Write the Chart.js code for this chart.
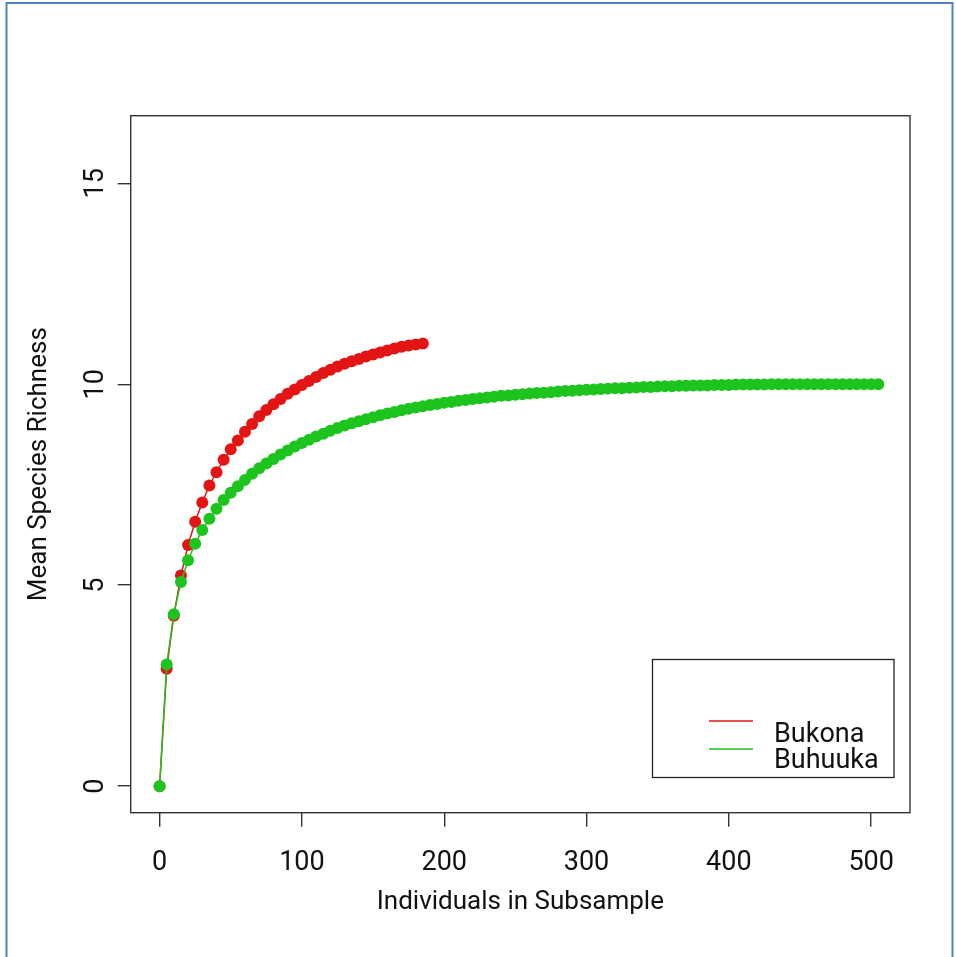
<!DOCTYPE html>
<html>
<head>
<meta charset="utf-8">
<script src="https://cdn.jsdelivr.net/npm/chart.js@4.4.1/dist/chart.umd.min.js"></script>
<style>
html, body { margin: 0; padding: 0; background: #ffffff; }
#wrap { width: 956px; height: 957px; }
</style>
</head>
<body>
<div id="wrap"><canvas id="myChart" width="956" height="957"></canvas></div>
<script>
/* ---------- DATA ---------- */

const bukonaN = [0, 5, 10, 15, 20, 25, 30, 35, 40, 45,
  50, 55, 60, 65, 70, 75, 80, 85, 90, 95,
  100, 105, 110, 115, 120, 125, 130, 135, 140, 145,
  150, 155, 160, 165, 170, 175, 180, 185];

const bukonaRichness = [0, 2.92, 4.24, 5.24, 6.00, 6.58, 7.06, 7.48, 7.81, 8.12,
  8.38, 8.60, 8.82, 9.01, 9.20, 9.36, 9.50, 9.63, 9.76, 9.87,
  9.98, 10.08, 10.18, 10.28, 10.36, 10.44, 10.51, 10.57, 10.63, 10.69,
  10.74, 10.79, 10.84, 10.89, 10.93, 10.96, 10.99, 11.01];

const buhuukaN = [0, 5, 10, 15, 20, 25, 30, 35, 40, 45,
  50, 55, 60, 65, 70, 75, 80, 85, 90, 95,
  100, 105, 110, 115, 120, 125, 130, 135, 140, 145,
  150, 155, 160, 165, 170, 175, 180, 185, 190, 195,
  200, 205, 210, 215, 220, 225, 230, 235, 240, 245,
  250, 255, 260, 265, 270, 275, 280, 285, 290, 295,
  300, 305, 310, 315, 320, 325, 330, 335, 340, 345,
  350, 355, 360, 365, 370, 375, 380, 385, 390, 395,
  400, 405, 410, 415, 420, 425, 430, 435, 440, 445,
  450, 455, 460, 465, 470, 475, 480, 485, 490, 495,
  500, 505];

const buhuukaRichness = [0, 3.03, 4.28, 5.08, 5.62, 6.03, 6.37, 6.65, 6.90, 7.12,
  7.30, 7.46, 7.62, 7.77, 7.91, 8.03, 8.14, 8.25, 8.35, 8.45,
  8.54, 8.62, 8.70, 8.77, 8.84, 8.91, 8.97, 9.03, 9.08, 9.13,
  9.18, 9.23, 9.27, 9.31, 9.35, 9.39, 9.42, 9.45, 9.48, 9.51,
  9.54, 9.56, 9.59, 9.61, 9.63, 9.65, 9.67, 9.69, 9.71, 9.72,
  9.74, 9.75, 9.77, 9.78, 9.79, 9.80, 9.82, 9.83, 9.84, 9.85,
  9.86, 9.87, 9.88, 9.89, 9.90, 9.90, 9.91, 9.92, 9.93, 9.93,
  9.94, 9.95, 9.95, 9.96, 9.96, 9.97, 9.97, 9.97, 9.98, 9.98,
  9.98, 9.99, 9.99, 9.99, 9.99, 9.99, 10.0, 10.0, 10.0, 10.0,
  10.0, 10.0, 10.0, 10.0, 10.0, 10.0, 10.0, 10.0, 10.0, 10.0,
  10.0, 10.0];

const xTicks = [0, 100, 200, 300, 400, 500];
const yTicks = [0, 5, 10, 15];

const RED = "#e31414";
const GREEN = "#1ec41e";
const FONT = "Roboto";
const INK = "#111111";

/* ---------- R style box, y labels, legend ---------- */

const rStyle = {
  id: "rStyle",
  beforeDraw(chart) {
    const c = chart.ctx;
    c.save();
    c.fillStyle = "#ffffff";
    c.fillRect(0, 0, chart.width, chart.height);
    c.restore();
  },
  afterDraw(chart) {
    const c = chart.ctx;
    const a = chart.chartArea;
    const yScale = chart.scales.y;
    c.save();

    // plot box
    c.strokeStyle = "#333333";
    c.lineWidth = 1.4;
    c.strokeRect(a.left, a.top, a.right - a.left, a.bottom - a.top);

    // vertical y tick labels
    c.fillStyle = INK;
    c.font = "27px " + FONT;
    c.textAlign = "center";
    c.textBaseline = "alphabetic";
    yTicks.forEach(v => {
      const py = yScale.getPixelForValue(v);
      c.save();
      c.translate(102.5, py);
      c.rotate(-Math.PI / 2);
      c.fillText(String(v), 0, 0);
      c.restore();
    });

    // legend
    const lx = 652.5, ly = 659.5, lw = 241.5, lh = 118;
    c.strokeStyle = "#222222";
    c.lineWidth = 1.3;
    c.strokeRect(lx, ly, lw, lh);
    const items = [chart.data.datasets[1], chart.data.datasets[0]];
    const lineY = [721, 749];
    const textY = [741.5, 768];
    items.forEach((ds, i) => {
      c.strokeStyle = ds.borderColor;
      c.lineWidth = 1.5;
      c.beginPath();
      c.moveTo(709, lineY[i]);
      c.lineTo(753, lineY[i]);
      c.stroke();
      c.fillStyle = INK;
      c.textAlign = "left";
      c.fillText(ds.label, 774, textY[i]);
    });

    // outer frame
    c.strokeStyle = "#4f81bd";
    c.lineWidth = 2;
    c.beginPath();
    c.moveTo(6.5, 960);
    c.lineTo(6.5, 3);
    c.lineTo(952.5, 3);
    c.lineTo(952.5, 960);
    c.stroke();

    c.restore();
  }
};

/* ---------- CHART ---------- */

const ctx = document.getElementById("myChart").getContext("2d");

new Chart(ctx, {
  type: "line",
  data: {
    datasets: [
      {
        label: "Buhuuka",
        data: buhuukaN.map((n, i) => ({ x: n, y: buhuukaRichness[i] })),
        borderColor: GREEN,
        backgroundColor: GREEN,
        pointBackgroundColor: GREEN,
        borderWidth: 1.5,
        pointRadius: 6,
        pointBorderWidth: 0,
        order: 0
      },
      {
        label: "Bukona",
        data: bukonaN.map((n, i) => ({ x: n, y: bukonaRichness[i] })),
        borderColor: RED,
        backgroundColor: RED,
        pointBackgroundColor: RED,
        borderWidth: 1.5,
        pointRadius: 6,
        pointBorderWidth: 0,
        order: 1
      }
    ]
  },
  options: {
    responsive: false,
    animation: false,
    devicePixelRatio: 1,
    layout: { padding: { top: 115.7, right: 46, left: 0, bottom: 0 } },
    plugins: {
      legend: { display: false },
      tooltip: { enabled: false }
    },
    scales: {
      x: {
        type: "linear",
        min: -20.3,
        max: 527.3,
        afterBuildTicks: s => { s.ticks = xTicks.map(v => ({ value: v })); },
        afterFit: s => { s.height = 144.3; },
        grid: { drawOnChartArea: false, tickLength: 14, color: "#333333", lineWidth: 1.4 },
        border: { display: false },
        ticks: {
          color: INK,
          font: { family: FONT, size: 27 },
          padding: 20,
          maxRotation: 0
        },
        title: {
          display: true,
          text: "Individuals in Subsample",
          color: INK,
          font: { family: FONT, size: 26 },
          padding: { top: 0, bottom: 39 }
        }
      },
      y: {
        type: "linear",
        min: -0.66,
        max: 16.68,
        afterBuildTicks: s => { s.ticks = yTicks.map(v => ({ value: v })); },
        afterFit: s => { s.width = 130.7; },
        grid: { drawOnChartArea: false, tickLength: 13, color: "#333333", lineWidth: 1.4 },
        border: { display: false },
        ticks: { display: false },
        title: {
          display: true,
          text: "Mean Species Richness",
          color: INK,
          font: { family: FONT, size: 26 },
          padding: { top: 24, bottom: 0 }
        }
      }
    }
  },
  plugins: [rStyle]
});
</script>
</body>
</html>
